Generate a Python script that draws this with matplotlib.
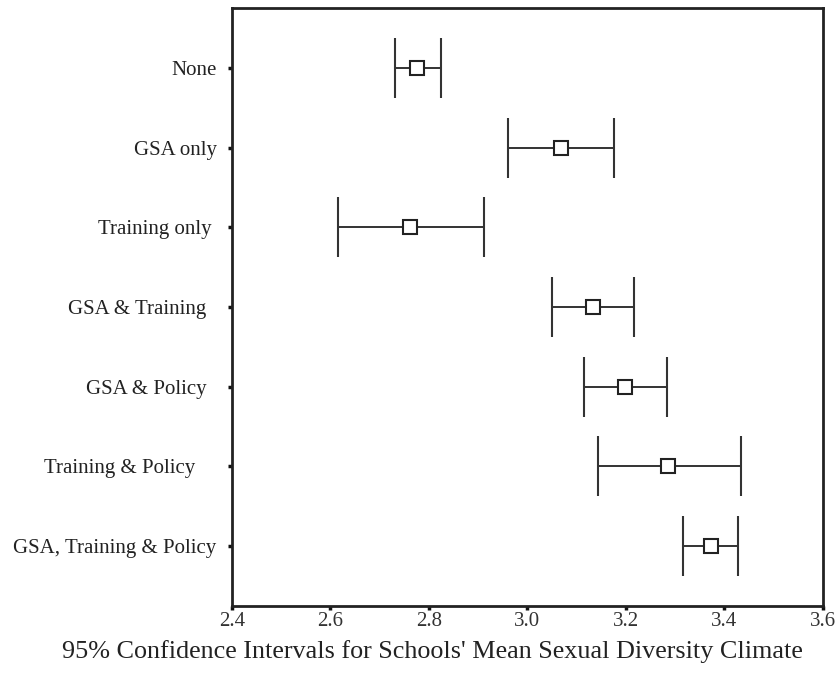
import matplotlib
matplotlib.use("Agg")
import matplotlib.pyplot as plt

categories = ["None", "GSA only", "Training only ", "GSA & Training  ", "GSA & Policy  ",
              "Training & Policy    ", "GSA, Training & Policy"]
means = [2.776, 3.068, 2.761, 3.133, 3.198, 3.285, 3.373]
lower = [2.731, 2.960, 2.615, 3.050, 3.115, 3.143, 3.316]
upper = [2.824, 3.176, 2.912, 3.216, 3.283, 3.434, 3.427]
xticks = [2.4, 2.6, 2.8, 3.0, 3.2, 3.4, 3.6]
xlabel = "95% Confidence Intervals for Schools' Mean Sexual Diversity Climate"

plt.rcParams['font.family'] = ['Liberation Serif', 'DejaVu Serif']

fig = plt.figure(figsize=(8.38, 6.73), dpi=100)
ax = fig.add_axes([0.2768, 0.0996, 0.7052, 0.8885])

ypos = list(range(1, len(categories) + 1))
err_lo = [m - l for m, l in zip(means, lower)]
err_hi = [u - m for m, u in zip(means, upper)]
ax.errorbar(means, ypos, xerr=[err_lo, err_hi], fmt='s', mfc='white', mec='#222222',
            mew=1.5, ms=9.5, ecolor='#333333', elinewidth=1.4, capsize=21.5, capthick=1.8,
            zorder=3)

ax.set_xlim(2.4, 3.6)
ax.set_ylim(7.75, 0.25)
ax.set_xticks(xticks)
ax.set_xticklabels([f"{t:.1f}" for t in xticks], fontsize=15, color='#333333')
ax.set_yticks(ypos)
ax.set_yticklabels(categories, fontsize=15, color='#222222')
ax.tick_params(axis='both', direction='out', length=3, width=2.5, color='#111111')
ax.tick_params(axis='y', pad=8)
ax.tick_params(axis='x', pad=1)
for s in ax.spines.values():
    s.set_linewidth(2)
    s.set_color('#222222')
fig.text(432 / 838, 1 - 652 / 673, xlabel, fontsize=18.8, color='#222222',
         ha='center', va='center')

fig.savefig("out.png", dpi=100)
